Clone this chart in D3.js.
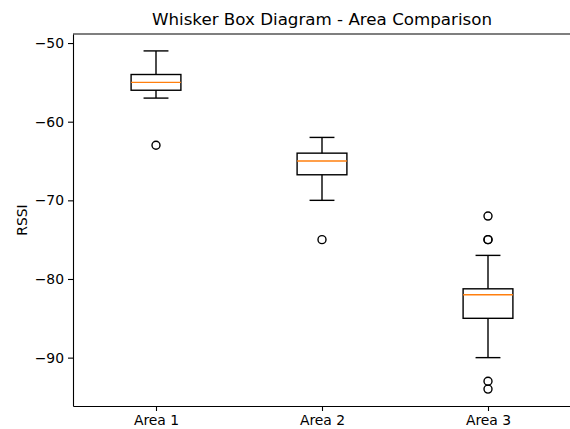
<!DOCTYPE html>
<html>
<head>
<meta charset="utf-8">
<script src="https://cdn.jsdelivr.net/npm/d3@7"></script>
<style>
  body { margin: 0; background: #fff; }
  text { font-family: "DejaVu Sans", sans-serif; fill: #000; }
</style>
</head>
<body>
<script>
// box statistics
var categories = ["Area 1", "Area 2", "Area 3"];
var whiskerLow = [-57, -70, -90];
var q1 = [-56, -66.75, -85];
var median = [-55, -65, -82];
var q3 = [-54, -64, -81.25];
var whiskerHigh = [-51, -62, -77];
var outliers = [[-63], [-75], [-72, -75, -75, -93, -94]];
var yTicks = [-50, -60, -70, -80, -90];

var margin = {top: 34, right: -1, bottom: 23, left: 73},
	width = 570 - margin.left - margin.right,
	height = 429 - margin.top - margin.bottom;

var data = categories.map(function(c, i) {
	return {name: c, pos: i + 1, lo: whiskerLow[i], q1: q1[i], med: median[i],
		q3: q3[i], hi: whiskerHigh[i], out: outliers[i]};
});

// matplotlib-style 5% margins on the data extent
var all = d3.merge(data.map(function(d) { return [d.lo, d.hi].concat(d.out); }));
var ext = d3.extent(all), pad = (ext[1] - ext[0]) * 0.05;

var x = d3.scaleLinear()
	.domain([0.5, categories.length + 0.5])
	.range([0, width]);

var y = d3.scaleLinear()
	.domain([ext[0] - pad, ext[1] + pad])
	.range([height, 0]);

var svg = d3.select("body").append("svg")
	.attr("width", 570)
	.attr("height", 429);

var g = svg.append("g")
	.attr("transform", "translate(" + margin.left + "," + margin.top + ")");

var boxW = (x(2) - x(1)) * 0.3;
var lw = 1.4;

var box = g.selectAll(".box")
	.data(data)
	.enter().append("g")
	.attr("class", "box");

// whiskers
box.append("line")
	.attr("x1", function(d) { return x(d.pos); })
	.attr("x2", function(d) { return x(d.pos); })
	.attr("y1", function(d) { return y(d.q1); })
	.attr("y2", function(d) { return y(d.lo); })
	.attr("stroke", "#000").attr("stroke-width", lw);
box.append("line")
	.attr("x1", function(d) { return x(d.pos); })
	.attr("x2", function(d) { return x(d.pos); })
	.attr("y1", function(d) { return y(d.q3); })
	.attr("y2", function(d) { return y(d.hi); })
	.attr("stroke", "#000").attr("stroke-width", lw);

// caps
["lo", "hi"].forEach(function(k) {
	box.append("line")
		.attr("x1", function(d) { return x(d.pos) - boxW / 4; })
		.attr("x2", function(d) { return x(d.pos) + boxW / 4; })
		.attr("y1", function(d) { return y(d[k]); })
		.attr("y2", function(d) { return y(d[k]); })
		.attr("stroke", "#000").attr("stroke-width", lw);
});

box.append("rect")
	.attr("x", function(d) { return x(d.pos) - boxW / 2; })
	.attr("y", function(d) { return y(d.q3); })
	.attr("width", boxW)
	.attr("height", function(d) { return y(d.q1) - y(d.q3); })
	.attr("fill", "none")
	.attr("stroke", "#000").attr("stroke-width", lw);

box.append("line")
	.attr("x1", function(d) { return x(d.pos) - boxW / 2; })
	.attr("x2", function(d) { return x(d.pos) + boxW / 2; })
	.attr("y1", function(d) { return y(d.med); })
	.attr("y2", function(d) { return y(d.med); })
	.attr("stroke", "#ff7f0e").attr("stroke-width", lw);

box.selectAll(".flier")
	.data(function(d) { return d.out.map(function(v) { return {pos: d.pos, v: v}; }); })
	.enter().append("circle")
	.attr("class", "flier")
	.attr("cx", function(d) { return x(d.pos); })
	.attr("cy", function(d) { return y(d.v); })
	.attr("r", 4)
	.attr("fill", "none")
	.attr("stroke", "#000").attr("stroke-width", lw);

// axes
var xAxis = g.append("g")
	.attr("transform", "translate(0," + height + ")")
	.call(d3.axisBottom(x).tickValues(data.map(function(d) { return d.pos; }))
		.tickFormat(function(p) { return categories[p - 1]; })
		.tickSizeInner(5).tickSizeOuter(0).tickPadding(4));

var yAxis = g.append("g")
	.call(d3.axisLeft(y).tickValues(yTicks)
		.tickFormat(function(v) { return v < 0 ? "\u2212" + Math.abs(v) : v; })
		.tickSizeInner(5).tickSizeOuter(0).tickPadding(4));

[xAxis, yAxis].forEach(function(a) {
	a.selectAll("text").style("font-size", "13.9px");
	a.selectAll("line").attr("stroke", "#000").attr("stroke-width", 1.1);
	a.select(".domain").attr("stroke", "#000").attr("stroke-width", 1.1);
});

// top spine
g.append("line")
	.attr("x1", 0).attr("x2", width)
	.attr("y1", 0).attr("y2", 0)
	.attr("stroke", "#000").attr("stroke-width", 1.1);

svg.append("text")
	.attr("x", margin.left + width / 2)
	.attr("y", 25)
	.attr("text-anchor", "middle")
	.style("font-size", "16.7px")
	.text("Whisker Box Diagram - Area Comparison");

svg.append("text")
	.attr("transform", "translate(27," + (margin.top + height / 2) + ") rotate(-90)")
	.attr("text-anchor", "middle")
	.style("font-size", "13.9px")
	.text("RSSI");
</script>
</body>
</html>
